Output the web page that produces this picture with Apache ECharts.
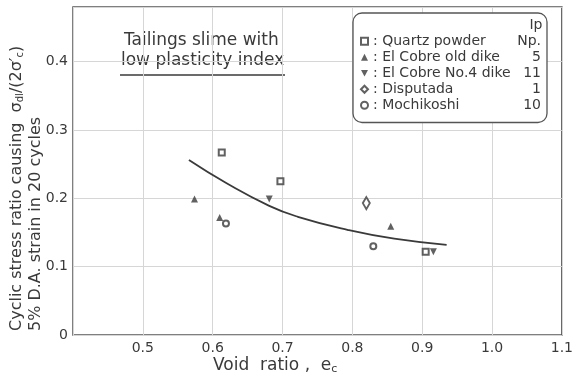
<!DOCTYPE html>
<html>
<head>
<meta charset="utf-8">
<script src="https://cdn.jsdelivr.net/npm/echarts@6/dist/echarts.min.js"></script>
<style>html,body{margin:0;padding:0;background:#fff}#c{width:576px;height:376px}</style>
</head>
<body>
<div id="c"></div>
<script>
// ---- data ----
var seriesNames = ['Quartz powder', 'El Cobre old dike', 'El Cobre No.4 dike', 'Disputada', 'Mochikoshi'];
var ipValues = ['Np.', '5', '11', '1', '10'];
var quartz = [[0.613, 0.267], [0.697, 0.225], [0.905, 0.122]];
var cobreOld = [[0.574, 0.199], [0.610, 0.172], [0.855, 0.159]];
var cobreNo4 = [[0.681, 0.199], [0.916, 0.122]];
var disputada = [[0.820, 0.193]];
var mochikoshi = [[0.619, 0.163], [0.830, 0.130]];
var curve = [[0.566, 0.256], [0.620, 0.222], [0.681, 0.189], [0.722, 0.173], [0.793, 0.154], [0.860, 0.141], [0.935, 0.132]];
var xTickLabels = {'0.5': '0.5', '0.6': '0.6', '0.7': '0.7', '0.8': '0.8', '0.9': '0.9', '1.0': '1.0', '1.1': '1.1'};
var yTickLabels = {'0.0': '0', '0.1': '0.1', '0.2': '0.2', '0.3': '0.3', '0.4': '0.4'};

var FONT = 'DejaVu Sans';
var INK = '#3a3a3a';
var chart = echarts.init(document.getElementById('c'));

function sc(name, data, symbol, size) {
  return {
    name: name, type: 'scatter', data: data, symbol: symbol, symbolSize: size,
    itemStyle: {color: INK, borderWidth: 1.3},
    z: 5
  };
}

chart.setOption({
  animation: false,
  backgroundColor: '#fff',
  grid: {left: 73, right: 9, top: 7, bottom: 41, show: true, borderColor: '#555', borderWidth: 1.5},
  xAxis: {
    type: 'value', min: 0.4, max: 1.1, interval: 0.1,
    axisLine: {show: false}, axisTick: {show: false},
    splitLine: {lineStyle: {color: '#d6d6d6', width: 1}},
    axisLabel: {
      margin: 6, color: INK, fontFamily: FONT, fontSize: 14,
      formatter: function (v) { return xTickLabels[v.toFixed(1)] || ''; }
    }
  },
  yAxis: {
    type: 'value', min: 0, max: 0.48, interval: 0.1,
    axisLine: {show: false}, axisTick: {show: false},
    splitLine: {lineStyle: {color: '#d6d6d6', width: 1}},
    axisLabel: {
      margin: 5, color: INK, fontFamily: FONT, fontSize: 14, showMaxLabel: false,
      formatter: function (v) { return yTickLabels[v.toFixed(1)] || ''; }
    }
  },
  legend: {
    data: seriesNames,
    orient: 'vertical', left: 353, top: 13,
    padding: [21, 6, 10, 7], itemGap: 1.5, itemWidth: 7, itemHeight: 7,
    borderColor: '#555', borderWidth: 1.3, borderRadius: 9, backgroundColor: '#fff',
    formatter: function (name) {
      var i = seriesNames.indexOf(name);
      return '{n|: ' + name + '}{p|' + ipValues[i] + '}';
    },
    textStyle: {
      color: INK, fontFamily: FONT, fontSize: 14, lineHeight: 14.5,
      rich: {
        n: {width: 147, color: INK, fontFamily: FONT, fontSize: 14},
        p: {width: 21, align: 'right', color: INK, fontFamily: FONT, fontSize: 14}
      }
    }
  },
  graphic: [
    {type: 'text', x: 536, y: 25, z: 10, style: {text: 'Ip', fill: INK, font: '14px "DejaVu Sans"', align: 'center', verticalAlign: 'middle'}},
    {type: 'text', x: 124, y: 41, style: {text: 'Tailings slime with', fill: INK, font: '17px "DejaVu Sans"', align: 'left', verticalAlign: 'middle'}},
    {type: 'text', x: 121, y: 61, style: {text: 'low plasticity index', fill: INK, font: '17px "DejaVu Sans"', align: 'left', verticalAlign: 'middle'}},
    {type: 'line', shape: {x1: 120, y1: 75, x2: 285, y2: 75}, style: {stroke: INK, lineWidth: 1.5}},
    {type: 'text', x: 213, y: 366, style: {
      text: 'Void  ratio ,  e{s|c}', fill: INK, font: '17px "DejaVu Sans"', align: 'left', verticalAlign: 'middle',
      rich: {s: {fontSize: 11, padding: [7, 0, 0, 0], fill: INK, fontFamily: FONT}}
    }},
    {type: 'text', x: 17, y: 331, rotation: Math.PI / 2, style: {
      text: 'Cyclic stress ratio causing  σ{s|dl}/(2σ′{s|c})', fill: INK, font: '16px "DejaVu Sans"',
      align: 'left', verticalAlign: 'middle',
      rich: {s: {fontSize: 10, padding: [7, 0, 0, 0], fill: INK, fontFamily: FONT}}
    }},
    {type: 'text', x: 36, y: 331, rotation: Math.PI / 2, style: {
      text: '5% D.A. strain in 20 cycles', fill: INK, font: '16px "DejaVu Sans"',
      align: 'left', verticalAlign: 'middle'
    }}
  ],
  series: [
    sc(seriesNames[0], quartz, 'emptyRect', 6),
    sc(seriesNames[1], cobreOld, 'triangle', 7),
    sc(seriesNames[2], cobreNo4, 'path://M0,0L10,0L5,9Z', 7),
    sc(seriesNames[3], disputada, 'emptyDiamond', [7, 12]),
    sc(seriesNames[4], mochikoshi, 'emptyCircle', 6),
    {
      type: 'line', data: curve, smooth: true, showSymbol: false, symbol: 'none',
      lineStyle: {color: INK, width: 1.8}, z: 4, silent: true
    }
  ]
});
</script>
</body>
</html>
